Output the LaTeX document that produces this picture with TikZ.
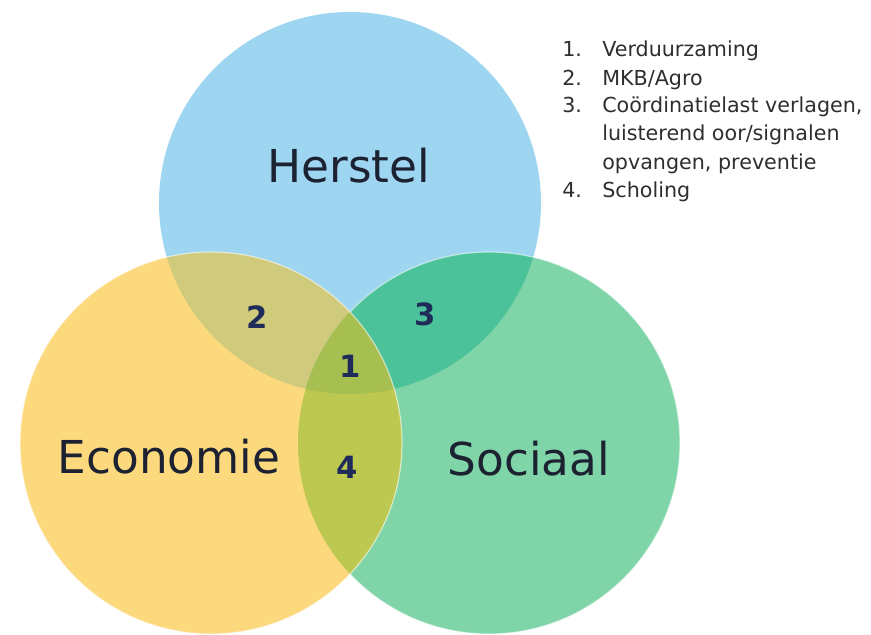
\documentclass[tikz,border=0pt]{standalone}
\usepackage{fontspec}
\setmainfont{DejaVu Sans}
\definecolor{blueC}{HTML}{9ED5F0}
\definecolor{yelC}{HTML}{FDD97E}
\definecolor{grnC}{HTML}{80D5A8}
\definecolor{byC}{HTML}{CFCA7C}
\definecolor{bgC}{HTML}{4CC29B}
\definecolor{ygC}{HTML}{BCC850}
\definecolor{bygC}{HTML}{A7BF50}
\definecolor{labC}{HTML}{1C2231}
\definecolor{numC}{HTML}{1F2B58}
\definecolor{listC}{HTML}{2E2E2E}
\tikzset{
  biglabel/.style={font=\fontsize{34}{40}\selectfont, text=labC, anchor=base, inner sep=0pt},
  numlabel/.style={font=\fontsize{23}{27}\selectfont\bfseries, text=numC, anchor=base, inner sep=0pt},
  listnum/.style={font=\fontsize{15.5}{18}\selectfont, text=listC, anchor=base west, inner sep=0pt},
  listtxt/.style={font=\fontsize{15.5}{18}\selectfont, text=listC, anchor=base west, inner sep=0pt},
  rim/.style={draw=white, draw opacity=0.55, line width=0.9pt}
}
\begin{document}
\begin{tikzpicture}[x=0.75pt,y=-0.75pt]
\useasboundingbox (0,0) rectangle (871,635);
\def\R{143.25pt}
\coordinate (B) at (350,203);
\coordinate (Y) at (211,443);
\coordinate (G) at (489,443);
% single circles
\fill[blueC] (B) circle[radius=\R];
\fill[grnC] (G) circle[radius=\R];
\fill[yelC] (Y) circle[radius=\R];
% pairwise overlaps
\begin{scope}\clip (B) circle[radius=\R]; \fill[byC] (Y) circle[radius=\R];\end{scope}
\begin{scope}\clip (B) circle[radius=\R]; \fill[bgC] (G) circle[radius=\R];\end{scope}
\begin{scope}\clip (Y) circle[radius=\R]; \fill[ygC] (G) circle[radius=\R];\end{scope}
% triple overlap
\begin{scope}\clip (B) circle[radius=\R]; \clip (Y) circle[radius=\R]; \fill[bygC] (G) circle[radius=\R];\end{scope}
% light rims (green under yellow, yellow on top)
\begin{scope}[even odd rule]
  \clip (-10,-10) rectangle (881,645) (Y) circle[radius=\R];
  \draw[rim] (G) circle[radius=\R];
\end{scope}
\draw[rim] (Y) circle[radius=\R];
% labels
\node[biglabel] (herstel) at (349,182) {Herstel};
\node[biglabel] (economie) at (169,473) {Economie};
\node[biglabel] (sociaal) at (529,475) {Sociaal};
\node[numlabel] (n2) at (257,328) {2};
\node[numlabel] (n3) at (425,325) {3};
\node[numlabel] (n1) at (350,377) {1};
\node[numlabel] (n4) at (347,478) {4};
% list
\node[listnum] (l1n) at (562,57) {1.};
\node[listtxt] (l1t) at (602,57) {Verduurzaming};
\node[listnum] (l2n) at (562,85) {2.};
\node[listtxt] (l2t) at (602,85) {MKB/Agro};
\node[listnum] (l3n) at (562,113) {3.};
\node[listtxt] (l3t) at (602,113) {Coördinatielast verlagen,};
\node[listtxt] (l3b) at (602,141) {luisterend oor/signalen};
\node[listtxt] (l3c) at (602,169) {opvangen, preventie};
\node[listnum] (l4n) at (562,197) {4.};
\node[listtxt] (l4t) at (602,197) {Scholing};
\end{tikzpicture}
\end{document}
